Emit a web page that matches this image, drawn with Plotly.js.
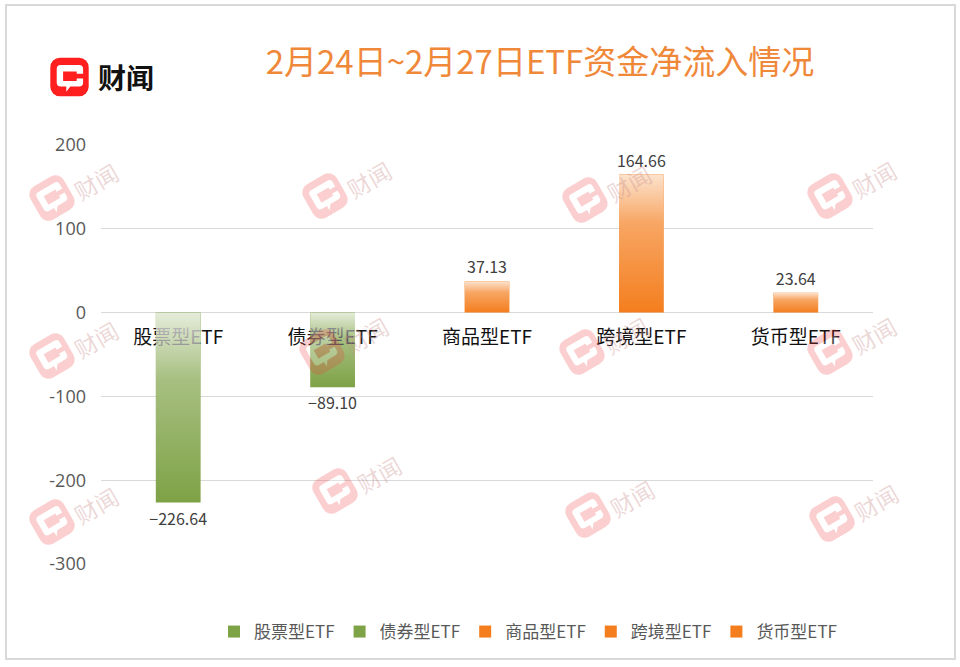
<!DOCTYPE html>
<html>
<head>
<meta charset="utf-8">
<script src="https://cdn.plot.ly/plotly-3.0.1.min.js"></script>
<style>html,body{margin:0;padding:0;background:#fff;}#chart{width:960px;height:667px;}</style>
</head>
<body>
<div id="chart"></div>
<script>
// ---- data ----
const categories = ['股票型ETF', '债券型ETF', '商品型ETF', '跨境型ETF', '货币型ETF'];
const netInflow = [-226.64, -89.10, 37.13, 164.66, 23.64];
const barColors = ['#7EA246', '#7EA246', '#F47E1E', '#F47E1E', '#F47E1E'];
const yTickVals = [-300, -200, -100, 0, 100, 200];
const yTickText = ['-300', '-200', '-100', '0', '100', '200'];
const yRange = [-300, 200];
const titleText = '2月24日~2月27日ETF资金净流入情况';
const brandText = '财闻';

// ---- geometry helpers (for decorations only) ----
const W = 960, H = 667;
const L = 101, R = 873, T = 145, B = 564;
const px2x = p => (p - L) / (R - L);
const py2y = p => (B - p) / (B - T);
const CJK = '"Noto Sans CJK SC", "Noto Sans", sans-serif';
const BAR_W = 0.29;

function iconSVG(bg, angle, opacity) {
  const svg = '<svg xmlns="http://www.w3.org/2000/svg" width="140" height="140" viewBox="-20 -20 140 140">' +
    '<g transform="translate(50 50) rotate(' + angle + ') translate(-50 -50)">' +
    '<g opacity="' + opacity + '">' +
    '<rect x="2" y="2" width="96" height="96" rx="24" fill="' + bg + '"/>' +
    '<path d="M28 20 H74 Q84 20 84 30 V42 H68 V36 H34 V60 H68 V54 H84 V64 Q84 74 74 74 H52 L42 87 L42 74 H28 Q18 74 18 64 V30 Q18 20 28 20 Z" fill="#ffffff"/>' +
    '</g></g></svg>';
  return 'data:image/svg+xml;charset=utf-8,' + encodeURIComponent(svg);
}
function gradSVG(a) {
  const svg = '<svg xmlns="http://www.w3.org/2000/svg" viewBox="0 0 10 100" preserveAspectRatio="none">' +
    '<defs><linearGradient id="g" x1="0" y1="0" x2="0" y2="1">' +
    '<stop offset="0" stop-color="#fff" stop-opacity="' + a + '"/>' +
    '<stop offset="0.35" stop-color="#fff" stop-opacity="' + (a * 0.4) + '"/>' +
    '<stop offset="1" stop-color="#fff" stop-opacity="0"/>' +
    '</linearGradient></defs><rect x="0" y="0" width="10" height="100" fill="url(#g)"/></svg>';
  return 'data:image/svg+xml;charset=utf-8,' + encodeURIComponent(svg);
}

// ---- traces ----
const traces = categories.map((c, i) => ({
  type: 'bar',
  name: c,
  x: [c],
  y: [netInflow[i]],
  width: BAR_W,
  marker: { color: barColors[i], line: { width: 0 } },
  text: [netInflow[i].toFixed(2).replace('-', '\u2212')],
  texttemplate: '%{text}',
  textposition: 'outside',
  constraintext: 'none',
  cliponaxis: false,
  textfont: { family: CJK, size: 16, color: '#404040' },
  outsidetextfont: { family: CJK, size: 16, color: '#404040' },
  hoverinfo: 'x+y'
}));

// ---- images: bar gradient overlays, logo, watermarks ----
const images = [];
netInflow.forEach((v, i) => {
  images.push({
    source: gradSVG(i < 2 ? 0.8 : 0.78),
    xref: 'x', yref: 'y',
    x: i - BAR_W / 2, y: Math.max(v, 0),
    sizex: BAR_W, sizey: Math.abs(v),
    xanchor: 'left', yanchor: 'top',
    sizing: 'stretch', layer: 'above'
  });
});
// main logo icon
images.push({
  source: iconSVG('#FF1F1F', 0, 1),
  xref: 'paper', yref: 'paper',
  x: px2x(69.5), y: py2y(77),
  sizex: 56 / (R - L), sizey: 56 / (B - T),
  xanchor: 'center', yanchor: 'middle', sizing: 'stretch', layer: 'above'
});
const wm = [[52, 198], [325, 196], [585, 200], [830, 196],
            [52, 356], [322, 352], [582, 352], [830, 352],
            [52, 522], [335, 491], [588, 515], [832, 519]];
const annotations = [];
wm.forEach(([cx, cy]) => {
  images.push({
    source: iconSVG('#F03C3C', -30, 0.24),
    xref: 'paper', yref: 'paper',
    x: px2x(cx), y: py2y(cy),
    sizex: 56 / (R - L), sizey: 56 / (B - T),
    xanchor: 'center', yanchor: 'middle', sizing: 'stretch', layer: 'above'
  });
  annotations.push({
    text: brandText, xref: 'paper', yref: 'paper',
    x: px2x(cx + 44), y: py2y(cy - 17), showarrow: false,
    xanchor: 'center', yanchor: 'middle',
    textangle: -30, font: { family: CJK, size: 23, color: 'rgba(200,140,140,0.34)' }
  });
});
annotations.push({
  text: brandText, xref: 'paper', yref: 'paper',
  x: px2x(126), y: py2y(77), showarrow: false,
  xanchor: 'center', yanchor: 'middle',
  font: { family: CJK, size: 28, color: '#111111', weight: 700 }
});

const layout = {
  width: W, height: H,
  paper_bgcolor: '#ffffff', plot_bgcolor: '#ffffff',
  margin: { l: L, r: W - R, t: T, b: H - B, pad: 0 },
  title: {
    text: titleText, xref: 'container', yref: 'container',
    x: 540 / W, xanchor: 'center', y: 1 - 62 / H, yanchor: 'middle',
    font: { family: CJK, size: 33, color: '#F0883A', weight: 400 }
  },
  barmode: 'relative',
  showlegend: true,
  legend: {
    orientation: 'h', x: px2x(214), xanchor: 'left', y: py2y(632), yanchor: 'middle',
    font: { family: CJK, size: 17, color: '#595959' }, itemwidth: 30, traceorder: 'normal',
    bgcolor: 'rgba(0,0,0,0)'
  },
  xaxis: {
    type: 'category', categoryorder: 'array', categoryarray: categories,
    range: [-0.5, 4.5], anchor: 'free',
    position: (0 - yRange[0]) / (yRange[1] - yRange[0]),
    showgrid: false, showline: false, zeroline: false, ticks: '',
    ticklabelstandoff: 11,
    tickfont: { family: CJK, size: 19, color: '#111111' }, fixedrange: true
  },
  yaxis: {
    range: yRange, tickmode: 'array', tickvals: yTickVals, ticktext: yTickText,
    showgrid: true, gridcolor: '#D9D9D9', gridwidth: 1,
    zeroline: true, zerolinecolor: '#D9D9D9', zerolinewidth: 1,
    showline: false, ticks: '', ticklabelstandoff: 14,
    tickfont: { family: '"Open Sans", sans-serif', size: 18, color: '#595959' }, fixedrange: true
  },
  shapes: [{
    type: 'rect', xref: 'paper', yref: 'paper', layer: 'above',
    x0: px2x(6), x1: px2x(955), y0: py2y(659), y1: py2y(5),
    line: { color: '#D9D9D9', width: 2 }, fillcolor: 'rgba(0,0,0,0)'
  }],
  images: images,
  annotations: annotations
};

Plotly.newPlot('chart', traces, layout, { displayModeBar: false, staticPlot: true });
</script>
</body>
</html>
